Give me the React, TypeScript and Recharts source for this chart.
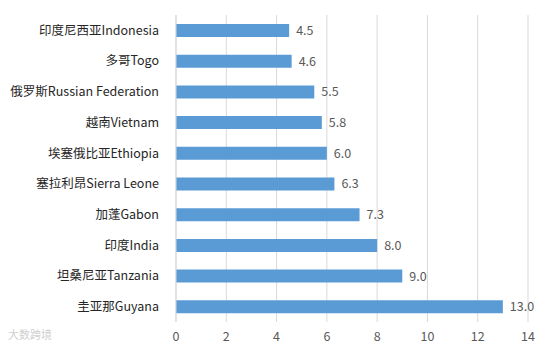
import { BarChart, Bar, XAxis, YAxis, CartesianGrid, LabelList } from "recharts";

const countries = [
  "印度尼西亚Indonesia",
  "多哥Togo",
  "俄罗斯Russian Federation",
  "越南Vietnam",
  "埃塞俄比亚Ethiopia",
  "塞拉利昂Sierra Leone",
  "加蓬Gabon",
  "印度India",
  "坦桑尼亚Tanzania",
  "圭亚那Guyana",
];
const values = [4.5, 4.6, 5.5, 5.8, 6.0, 6.3, 7.3, 8.0, 9.0, 13.0];
const xTicks = [0, 2, 4, 6, 8, 10, 12, 14];

const data = countries.map((name, i) => ({ name, value: values[i] }));

const font = "'Noto Sans CJK SC', 'Noto Sans', sans-serif";

export default function App() {
  return (
    <div style={{ position: "absolute", left: 0, top: 0, width: 551, height: 353, background: "#fff", fontFamily: font }}>
      <BarChart
        width={551}
        height={353}
        data={data}
        layout="vertical"
        margin={{ top: 15, right: 23, bottom: 1, left: 0 }}
      >
        <CartesianGrid horizontal={false} stroke="#d9d9d9" />
        <XAxis
          type="number"
          domain={[0, 14]}
          ticks={xTicks}
          axisLine={false}
          tickLine={false}
          height={30}
          tick={{ fill: "#595959", fontSize: 12.5, fontFamily: font }}
          tickMargin={4}
        />
        <YAxis
          type="category"
          dataKey="name"
          width={176}
          axisLine={{ stroke: "#d9d9d9" }}
          tickLine={false}
          tickMargin={11}
          tick={{ fill: "#262626", fontSize: 12.5, fontFamily: font }}
        />
        <Bar dataKey="value" fill="#5b9bd5" barSize={13} isAnimationActive={false}>
          <LabelList
            dataKey="value"
            position="right"
            offset={7}
            formatter={(v: number) => v.toFixed(1)}
            style={{ fill: "#595959", fontSize: 12.5, fontFamily: font }}
          />
        </Bar>
      </BarChart>
      <div style={{ position: "absolute", left: 8, top: 326, fontSize: 11, color: "#d0d0d0", fontFamily: font }}>
        大数跨境
      </div>
    </div>
  );
}
